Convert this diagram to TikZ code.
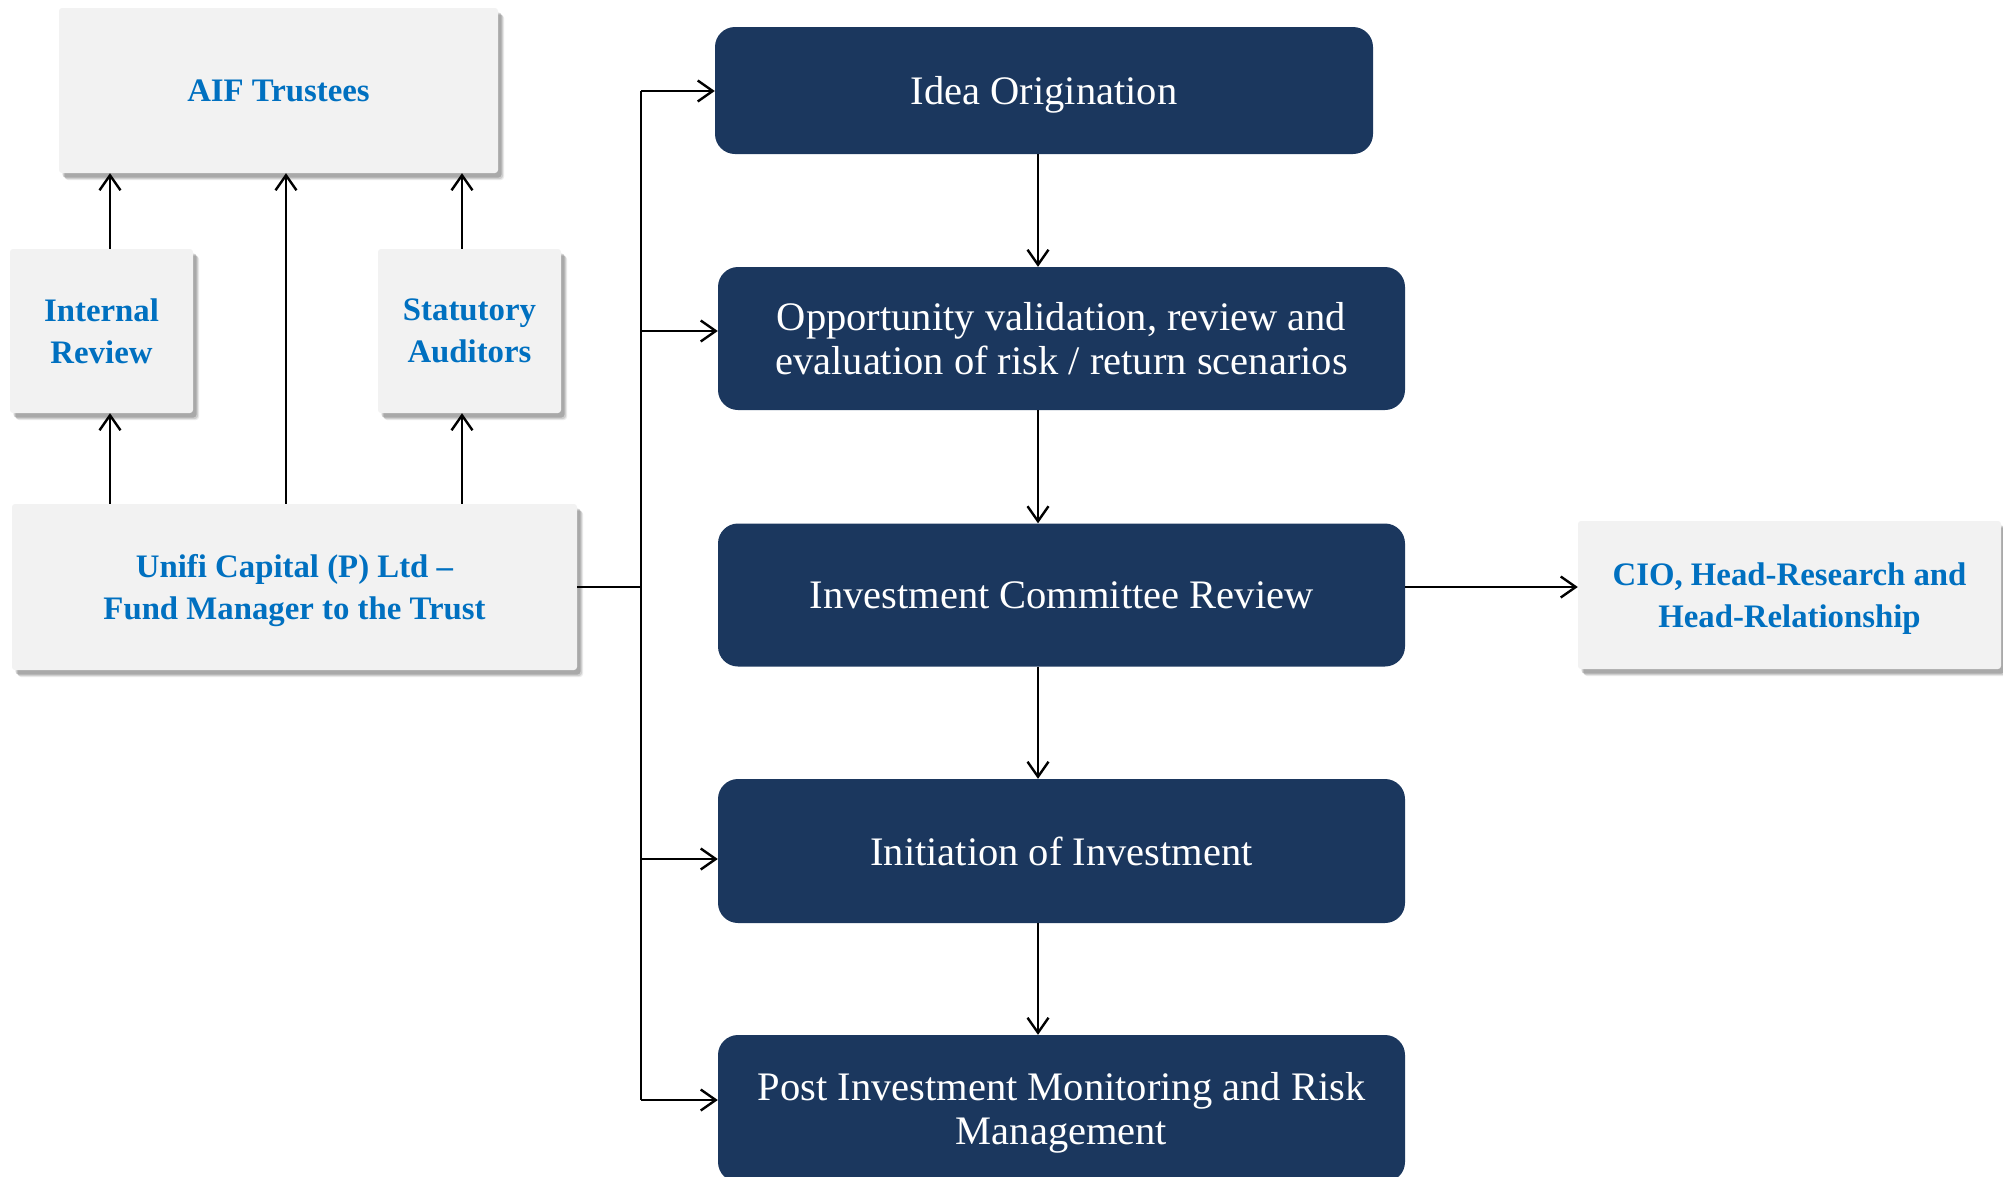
\documentclass[tikz,border=0pt]{standalone}
\usepackage{fontspec}
\setmainfont{Liberation Serif}
\usetikzlibrary{arrows.meta,shadows}
\definecolor{navy}{HTML}{1B375E}
\definecolor{lightbox}{HTML}{F2F2F2}
\definecolor{bluetext}{HTML}{0070C0}
\tikzset{
  lbox/.style={fill=lightbox, rounded corners=3pt, inner sep=0pt, align=center,
    text=bluetext, font=\bfseries\fontsize{32.8}{42}\selectfont,
    drop shadow={shadow xshift=6pt, shadow yshift=-7pt, opacity=0.08, fill=black},
    drop shadow={shadow xshift=5pt, shadow yshift=-6pt, opacity=0.12, fill=black},
    drop shadow={shadow xshift=3.5pt, shadow yshift=-4.5pt, opacity=0.18, fill=black}},
  dbox/.style={fill=navy, rounded corners=20pt, inner sep=0pt, align=center,
    text=white, font=\fontsize{40.5}{44}\selectfont},
  arr/.style={line width=2.4pt, -{Straight Barb[length=15pt,width=21pt]}},
  conn/.style={line width=2.2pt}
}
\begin{document}
\begin{tikzpicture}[x=1pt,y=-1pt]
\useasboundingbox (0,0) rectangle (2003,1176);
% light boxes
\node[lbox, minimum width=439, minimum height=165] (aif) at (278.5,90.5) {AIF Trustees};
\node[lbox, minimum width=183, minimum height=164] (irev) at (101.5,331) {Internal\\Review};
\node[lbox, minimum width=183, minimum height=164] (saud) at (469.5,331) {Statutory\\Auditors};
\node[lbox, text depth=0pt, minimum width=565, minimum height=166] (unifi) at (294.5,587) {Unifi Capital (P) Ltd --\\Fund Manager to the Trust};
\node[lbox, text depth=0pt, minimum width=423, minimum height=148] (cio) at (1789.5,595) {CIO, Head-Research and\\Head-Relationship};
% dark boxes
\node[dbox, text depth=0pt, minimum width=658, minimum height=127] (idea) at (1044,90.5) {Idea Origination};
\node[dbox, minimum width=687, minimum height=143] (opp) at (1061.5,338.5) {Opportunity validation, review and\\evaluation of risk / return scenarios};
\node[dbox, minimum width=687, minimum height=143] (comm) at (1061.5,595) {Investment Committee Review};
\node[dbox, minimum width=687, minimum height=144] (init) at (1061.5,851) {Initiation of Investment};
\node[dbox, text depth=0pt, minimum width=687, minimum height=147] (post) at (1061.5,1108.5) {Post Investment Monitoring and Risk\\Management};
% helper coordinates
\coordinate (ax1) at (110,0);
\coordinate (ax2) at (286,0);
\coordinate (ax3) at (462,0);
\coordinate (tr) at (641,0);
\coordinate (b1) at (641,91);
\coordinate (b2) at (641,331);
\coordinate (b3) at (641,859);
\coordinate (b4) at (641,1100);
\coordinate (vx) at (1038,0);
\coordinate (hc) at (0,587);
% left arrows
\draw[arr] (unifi.north -| ax1) -- (irev.south -| ax1);
\draw[arr] (irev.north -| ax1) -- (aif.south -| ax1);
\draw[arr] (unifi.north -| ax2) -- (aif.south -| ax2);
\draw[arr] (unifi.north -| ax3) -- (saud.south -| ax3);
\draw[arr] (saud.north -| ax3) -- (aif.south -| ax3);
% trunk
\draw[conn] (unifi.east |- hc) -- (tr |- hc);
\draw[conn] (b1) -- (b4);
\draw[arr] (b1) -- (b1 -| idea.west);
\draw[arr] (b2) -- (b2 -| opp.west);
\draw[arr] (b3) -- (b3 -| init.west);
\draw[arr] (b4) -- (b4 -| post.west);
% flow
\draw[arr] (idea.south -| vx) -- (opp.north -| vx);
\draw[arr] (opp.south -| vx) -- (comm.north -| vx);
\draw[arr] (comm.south -| vx) -- (init.north -| vx);
\draw[arr] (init.south -| vx) -- (post.north -| vx);
\draw[arr] (comm.east |- hc) -- (cio.west |- hc);
\end{tikzpicture}
\end{document}
